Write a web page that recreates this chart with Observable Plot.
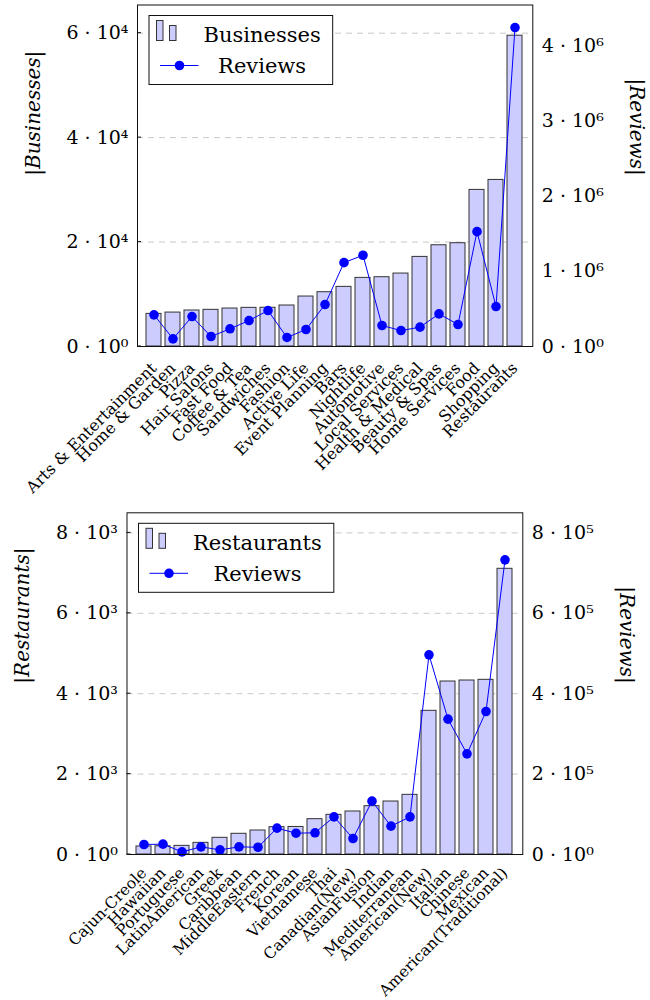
<!DOCTYPE html>
<html>
<head>
<meta charset="utf-8">
<script src="https://cdn.jsdelivr.net/npm/d3@7"></script>
<script src="https://cdn.jsdelivr.net/npm/@observablehq/plot@0.6"></script>
<style>
  body { margin: 0; background: #fff; }
  #charts svg { display: block; }
</style>
</head>
<body>
<div id="charts"></div>
<script>
// ---- data ----
const businessCategories = ["Arts & Entertainment","Home & Garden","Pizza","Hair Salons","Fast Food","Coffee & Tea","Sandwiches","Fashion","Active Life","Event Planning","Bars","Nightlife","Automotive","Local Services","Health & Medical","Beauty & Spas","Home Services","Food","Shopping","Restaurants"];
const businessCounts = [6250, 6500, 6890, 7020, 7270, 7400, 7420, 7850, 9570, 10400, 11420, 13140, 13270, 13970, 17160, 19390, 19780, 29990, 31900, 59520];
const businessReviews = [421000, 102000, 398000, 133000, 235000, 345000, 478000, 120000, 226000, 558000, 1115000, 1213000, 279000, 212000, 257000, 434000, 292000, 1527000, 531000, 4240000];
const businessTicks = [0, 20000, 40000, 60000];
const businessReviewTicks = [0, 1000000, 2000000, 3000000, 4000000];

const restaurantCategories = ["Cajun-Creole","Hawaiian","Portuguese","LatinAmerican","Greek","Caribbean","MiddleEastern","French","Korean","Vietnamese","Thai","Canadian(New)","AsianFusion","Indian","Mediterranean","American(New)","Italian","Chinese","Mexican","American(Traditional)"];
const restaurantCounts = [200, 205, 215, 290, 415, 515, 597, 680, 685, 879, 987, 1070, 1202, 1318, 1484, 3574, 4303, 4328, 4345, 7107];
const restaurantReviews = [24900, 25700, 6500, 19000, 11600, 19000, 18000, 65500, 53000, 54000, 93700, 39800, 132700, 70500, 93700, 496700, 336700, 250400, 355700, 733000];
const restaurantTicks = [0, 2000, 4000, 6000, 8000];
const restaurantReviewTicks = [0, 200000, 400000, 600000, 800000];

// ---- helpers ----
const SUP = {"0":"⁰","1":"¹","2":"²","3":"³","4":"⁴","5":"⁵","6":"⁶","7":"⁷","8":"⁸","9":"⁹"};
function sci(v) {
  if (Math.abs(v) < 1e-6) return "0 · 10⁰";
  const e = Math.floor(Math.log10(v) + 1e-9);
  const m = Math.round(v / Math.pow(10, e));
  return `${m} · 10${String(e).split("").map(c => SUP[c]).join("")}`;
}

const FONT = "DejaVu Serif";
const BAR_FILL = "#ccccff";
const BAR_STROKE = "#333";
const LINE_COLOR = "#0000ff";

function dualChart(o) {
  const k = o.yMax / o.rMax;
  const data = o.cats.map((c, i) => ({cat: c, count: o.counts[i], rev: o.reviews[i]}));
  const plot = Plot.plot({
    width: 650,
    height: o.height,
    marginLeft: o.marginLeft,
    marginRight: o.marginRight,
    marginTop: o.marginTop,
    marginBottom: o.marginBottom,
    style: {fontFamily: FONT, fontSize: "16px", color: "#000", background: "#fff", overflow: "visible"},
    x: {domain: o.cats, paddingInner: 0.19, paddingOuter: 0.08, label: null},
    y: {domain: [0, o.yMax], label: null},
    marks: [
      Plot.ruleY(o.ticks.filter(t => t > 0), {stroke: "#c8c8c8", strokeDasharray: "6,5", strokeWidth: 1}),
      Plot.barY(data, {x: "cat", y: "count", fill: BAR_FILL, stroke: BAR_STROKE, strokeWidth: 1}),
      Plot.line(data, {x: "cat", y: d => d.rev * k, stroke: LINE_COLOR, strokeWidth: 1}),
      Plot.dot(data, {x: "cat", y: d => d.rev * k, r: 4.8, fill: LINE_COLOR, stroke: "none"}),
      Plot.frame({stroke: "#111", strokeWidth: 1}),
      Plot.axisX({tickRotate: -45, tickSize: 0, tickPadding: o.catPad, fontSize: o.catFont, label: null}),
      Plot.axisY(o.ticks, {anchor: "left", tickSize: 0, tickPadding: 9, tickFormat: sci, fontSize: 19, label: null}),
      Plot.axisY(o.rTicks.map(v => v * k), {anchor: "right", tickSize: 0, tickPadding: 9, tickFormat: d => sci(d / k), fontSize: 19, label: null}),
      Plot.text([o.yLabel], {frameAnchor: "left", dx: -104, rotate: -90, fontSize: 20, fontStyle: "italic", text: d => d}),
      Plot.text(["|Reviews|"], {frameAnchor: "right", dx: 104, rotate: 90, fontSize: 20, fontStyle: "italic", text: d => d})
    ]
  });
  document.getElementById("charts").appendChild(plot);

  // inward tick marks on the left axis, placed through the plot's own y scale
  const ys = plot.scale("y");
  const svg = d3.select(plot);
  const left = o.marginLeft;
  const gT = svg.append("g").attr("stroke", "#111").attr("stroke-width", 1);
  o.ticks.forEach(t => {
    const y = ys.apply(t);
    gT.append("line").attr("x1", left).attr("x2", left + 4).attr("y1", y).attr("y2", y);
  });

  // legend box
  const top = o.marginTop;
  const lx = left + 12, ly = top + 11;
  const g = svg.append("g").attr("transform", `translate(${lx},${ly})`).attr("font-family", FONT).attr("font-size", 21);
  const box = g.append("rect").attr("fill", "#fff").attr("stroke", "#111").attr("stroke-width", 1).attr("y", 0).attr("height", 69);
  // row 1: bar symbol
  g.append("rect").attr("x", 7.5).attr("y", 5).attr("width", 6.5).attr("height", 20).attr("fill", BAR_FILL).attr("stroke", BAR_STROKE);
  g.append("rect").attr("x", 20.5).attr("y", 10).attr("width", 6.5).attr("height", 15).attr("fill", BAR_FILL).attr("stroke", BAR_STROKE);
  // row 2: line symbol
  g.append("line").attr("x1", 11).attr("x2", 49.5).attr("y1", 50).attr("y2", 50).attr("stroke", LINE_COLOR).attr("stroke-width", 1);
  g.append("circle").attr("cx", 30.5).attr("cy", 50).attr("r", 4.8).attr("fill", LINE_COLOR);
  const t1 = g.append("text").text(o.legendLabel).attr("y", 19).attr("dy", "0.35em").attr("text-anchor", "middle");
  const t2 = g.append("text").text("Reviews").attr("y", 50).attr("dy", "0.35em").attr("text-anchor", "middle");
  const w = Math.max(t1.node().getComputedTextLength(), t2.node().getComputedTextLength());
  const cx = 54.5 + w / 2;
  t1.attr("x", cx); t2.attr("x", cx);
  box.attr("width", 54.5 + w + 12);
}

dualChart({
  cats: businessCategories, counts: businessCounts, reviews: businessReviews,
  ticks: businessTicks, rTicks: businessReviewTicks,
  yMax: 65400, rMax: 4540000,
  height: 500, marginTop: 4.5, marginBottom: 154, marginLeft: 137, marginRight: 117.7,
  catFont: 16, catPad: 19,
  yLabel: "|Businesses|", legendLabel: "Businesses"
});

dualChart({
  cats: restaurantCategories, counts: restaurantCounts, reviews: restaurantReviews,
  ticks: restaurantTicks, rTicks: restaurantReviewTicks,
  yMax: 8500, rMax: 850000,
  height: 500, marginTop: 12.3, marginBottom: 146, marginLeft: 126.5, marginRight: 127.7,
  catFont: 15.5, catPad: 16,
  yLabel: "|Restaurants|", legendLabel: "Restaurants"
});
</script>
</body>
</html>
